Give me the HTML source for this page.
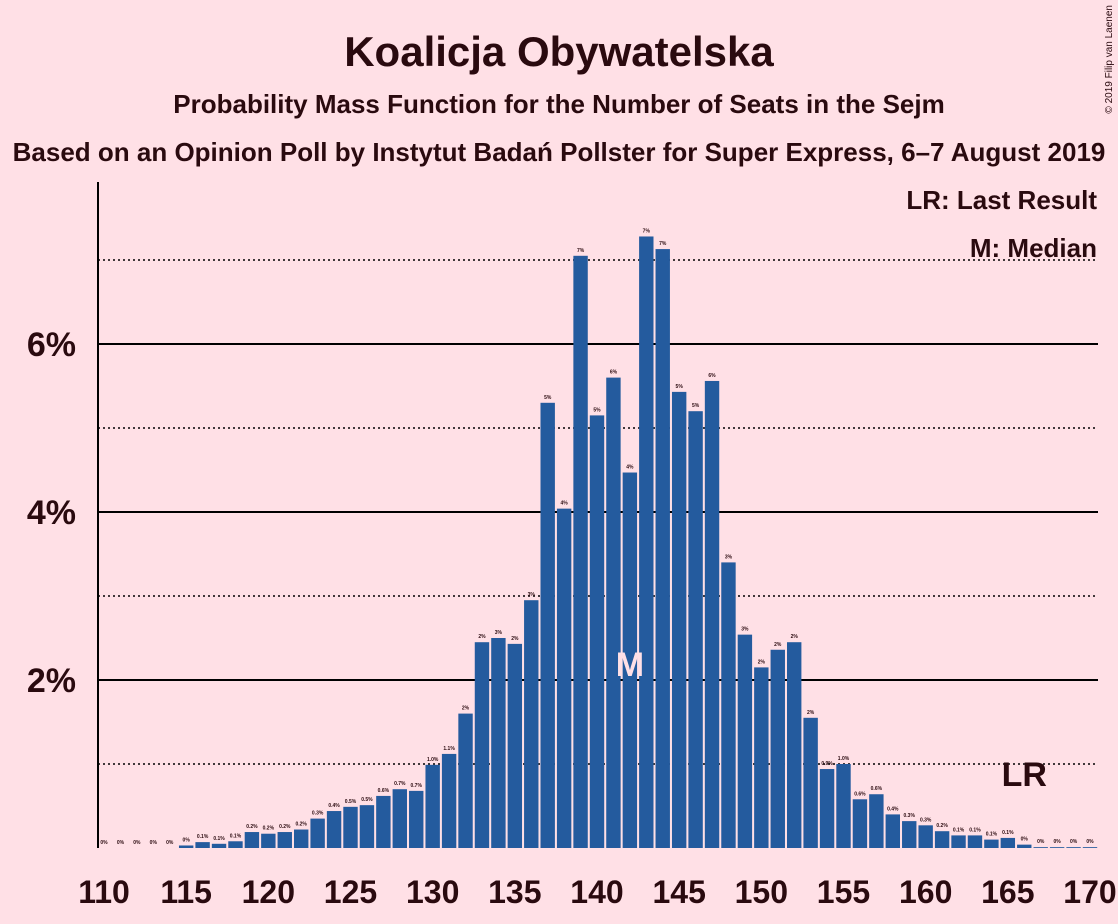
<!DOCTYPE html>
<html><head><meta charset="utf-8"><style>
body{margin:0;background:#ffe0e6;}
svg{display:block;font-family:"Liberation Sans",sans-serif;}
</style></head><body>
<svg id="c" width="1118" height="924">
<rect width="1118" height="924" fill="#ffe0e6"/>
<text x="559" y="66" text-anchor="middle" font-size="42" font-weight="bold" fill="#2a0a0f">Koalicja Obywatelska</text>
<text x="559" y="113" text-anchor="middle" font-size="26" font-weight="bold" fill="#2a0a0f">Probability Mass Function for the Number of Seats in the Sejm</text>
<text x="559" y="161" text-anchor="middle" font-size="26" font-weight="bold" fill="#2a0a0f">Based on an Opinion Poll by Instytut Badań Pollster for Super Express, 6–7 August 2019</text>
<text x="1112" y="5" font-size="10" fill="#2a0a0f" transform="rotate(-90 1112 5)" text-anchor="end">© 2019 Filip van Laenen</text>
<text x="1097" y="209" text-anchor="end" font-size="26" font-weight="600" fill="#2a0a0f">LR: Last Result</text>
<text x="1097" y="257" text-anchor="end" font-size="26" font-weight="600" fill="#2a0a0f">M: Median</text>
<g id="grid"></g><g id="bars"></g><g id="xt"></g>
<line x1="98" y1="182" x2="98" y2="848" stroke="#000" stroke-width="2"/>
</svg>
<script>
const seats=[];for(let s=110;s<=170;s++)seats.push(s);
const values=[0,0,0,0,0,0.03,0.07,0.05,0.08,0.19,0.17,0.19,0.22,0.35,0.44,0.49,0.51,0.62,0.7,0.68,0.99,1.12,1.6,2.45,2.5,2.43,2.95,5.3,4.04,7.05,5.15,5.6,4.47,7.28,7.13,5.43,5.2,5.56,3.4,2.54,2.15,2.36,2.45,1.55,0.94,1.0,0.58,0.64,0.4,0.32,0.27,0.2,0.15,0.15,0.1,0.12,0.04,0.01,0.01,0.01,0.01];
const yTicks=[2,4,6];
const yDotted=[1,3,5,7];
const xTicks=[110,115,120,125,130,135,140,145,150,155,160,165,170];
const medianSeat=142, lastResult=166;
const NS="http://www.w3.org/2000/svg";
const x0=104,slot=(1090-104)/60,base=848,pp=84;
const X=s=>x0+(s-110)*slot, Y=v=>base-v*pp;
function el(t,a,p){const e=document.createElementNS(NS,t);for(const k in a)e.setAttribute(k,a[k]);document.getElementById(p).appendChild(e);return e;}
function lab(v){if(v<0.05)return"0%";if(v<1.5)return v.toFixed(1)+"%";return Math.round(v)+"%";}
yTicks.forEach(v=>{const l=el('line',{x1:98,x2:1098,y1:Y(v),y2:Y(v),stroke:'#000','stroke-width':2},'grid');


const t=el('text',{x:76,y:Y(v)+12,'text-anchor':'end','font-size':34,'font-weight':'bold',fill:'#2a0a0f'},'grid');t.textContent=v+'%';

});
yDotted.forEach(v=>{const l=el('line',{x1:98,x2:1098,y1:Y(v),y2:Y(v),stroke:'#000','stroke-width':1.5,'stroke-dasharray':'2,3'},'grid');

});
seats.forEach((s,i)=>{const v=values[i];const cx=X(s);
const r=el('rect',{x:cx-7.2,y:Y(v),width:14.4,height:v*pp,fill:'#245b9e'},'bars');


const t=el('text',{x:cx,y:Y(v)-4,'text-anchor':'middle','font-size':5,'font-weight':'bold',fill:'#2a0a0f'},'bars');t.textContent=lab(v);

});
const m=el('text',{x:X(medianSeat),y:676,'text-anchor':'middle','font-size':34,'font-weight':'bold',fill:'#ffe0e6'},'bars');m.textContent='M';


const lr=el('text',{x:X(lastResult),y:786,'text-anchor':'middle','font-size':34,'font-weight':'bold',fill:'#2a0a0f'},'bars');lr.textContent='LR';


xTicks.forEach(s=>{const t=el('text',{x:X(s),y:903,'text-anchor':'middle','font-size':32,'font-weight':'bold',fill:'#2a0a0f'},'xt');t.textContent=s;

});
</script>
</body></html>
